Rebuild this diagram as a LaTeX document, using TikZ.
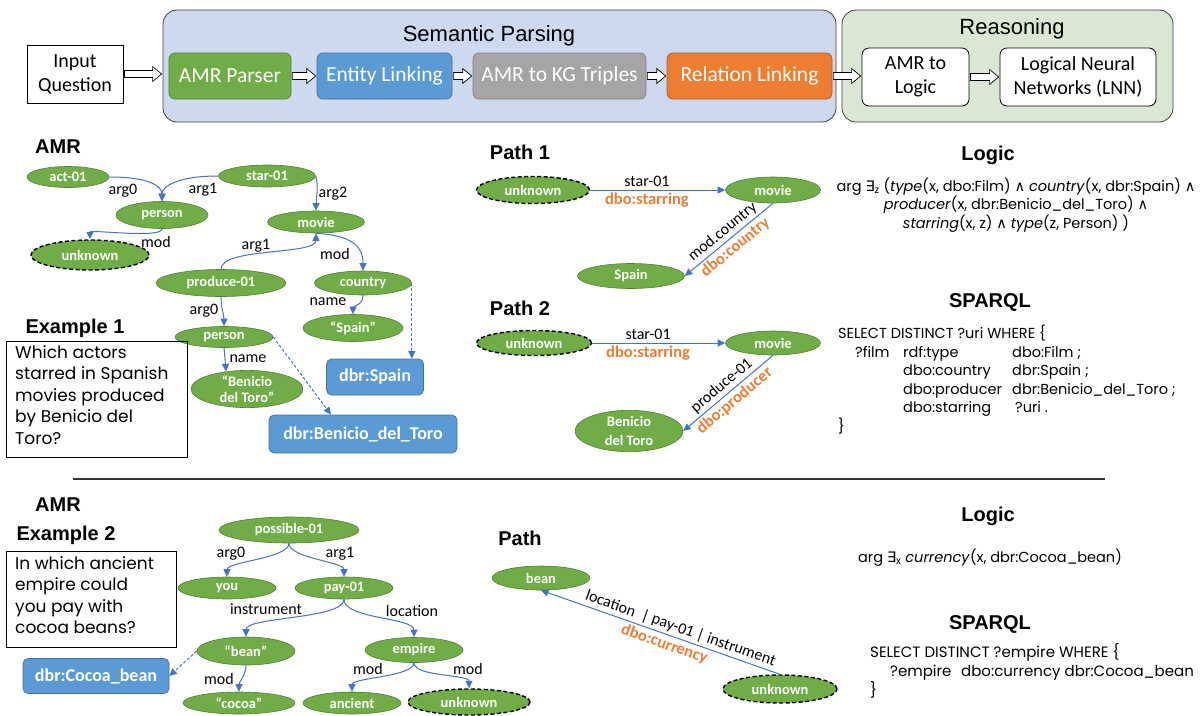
\documentclass[tikz,border=0pt]{standalone}
\usepackage{fontspec}
\setmainfont{Carlito}
\newfontfamily\arialf{Liberation Sans}
\newfontfamily\gothic{Poppins}
\newfontfamily\dejavu{DejaVu Sans}
\usetikzlibrary{shapes.geometric,arrows.meta,calc}
\definecolor{grn}{HTML}{70AD47}
\definecolor{grnD}{HTML}{507E32}
\definecolor{blu}{HTML}{5B9BD5}
\definecolor{bluD}{HTML}{41719C}
\definecolor{gry}{HTML}{A5A5A5}
\definecolor{gryD}{HTML}{7F7F7F}
\definecolor{org}{HTML}{ED7D31}
\definecolor{orgD}{HTML}{AE5A21}
\definecolor{eblue}{HTML}{4472C4}
\definecolor{spfill}{HTML}{CDD9EE}
\definecolor{rsfill}{HTML}{DAE8D3}
\newcommand\blockarr[2]{\draw[fill=white,line width=0.7pt] let \p1=#1, \p2=#2 in (\x1+1pt,\y1+3.5pt) -- (\x2-10pt,\y1+3.5pt) -- (\x2-10pt,\y1+7.5pt) -- (\x2-1pt,\y1) -- (\x2-10pt,\y1-7.5pt) -- (\x2-10pt,\y1-3.5pt) -- (\x1+1pt,\y1-3.5pt) -- cycle;}
\begin{document}
\begin{tikzpicture}[x=1pt,y=-1pt,
 panel/.style={draw=black!75, line width=0.8pt, rounded corners=14pt},
 title/.style={font=\arialf\fontsize{22}{24}\selectfont},
 stepbx/.style={draw=#1D, fill=#1, line width=0.7pt, rounded corners=6pt, text=white, font=\fontsize{21.5}{24}\selectfont, minimum height=46, inner sep=0pt},
 wbox/.style={draw=black, fill=white, line width=0.8pt, rounded corners=7pt, font=\fontsize{20}{23.5}\selectfont, align=center, inner sep=0pt},
 amr/.style={ellipse, draw=grnD, line width=0.6pt, fill=grn, text=white, font=\bfseries\fontsize{14.5}{16}\selectfont, inner sep=0pt, align=center},
 unk/.style={amr, draw=black, line width=1.4pt, dash pattern=on 4pt off 2.5pt},
 dbr/.style={draw=bluD, fill=blu, line width=0.7pt, rounded corners=5pt, text=white, font=\bfseries\fontsize{18}{20}\selectfont, inner sep=0pt},
 edge/.style={draw=eblue, line width=1pt, -{Triangle[length=7.5pt,width=7pt]}},
 dedge/.style={edge, dash pattern=on 3pt off 2pt},
 elab/.style={font=\fontsize{16}{18}\selectfont, inner sep=2.5pt},
 olab/.style={font=\bfseries\fontsize{16.5}{18}\selectfont, text=org, inner sep=2.5pt},
 head/.style={font=\arialf\bfseries\fontsize{20}{22}\selectfont},
 qbox/.style={draw=black, line width=0.8pt, inner sep=0pt},
 gtext/.style={font=\gothic\fontsize{17}{21.5}\selectfont, align=left, inner sep=0pt},
 logic/.style={font=\gothic\fontsize{14.5}{17}\selectfont, align=center, inner sep=0pt},
 code/.style={font=\gothic\fontsize{14.5}{18.5}\selectfont, inner sep=0pt},
]
\useasboundingbox (0,0) rectangle (1201,715);
% ---------- top pipeline ----------
\node[draw=black, line width=0.8pt, minimum width=96, minimum height=58, align=center, inner sep=0pt, font=\fontsize{20}{24}\selectfont] (inq) at (75,74) {Input\\Question};
\node[panel, fill=spfill, minimum width=673, minimum height=112] (sp) at (499.5,66) {};
\node[panel, fill=rsfill, minimum width=331, minimum height=112] (rs) at (1007.5,66) {};
\node[title] (spt) at (489,36) {Semantic Parsing};
\node[title] (rst) at (1012,29) {Reasoning};
\node[stepbx=grn, minimum width=122] (amrp) at (230,76) {AMR Parser};
\node[stepbx=blu, minimum width=135] (ent) at (384.5,76) {Entity Linking};
\node[stepbx=gry, minimum width=173] (kg) at (559.5,76) {AMR to KG Triples};
\node[stepbx=org, minimum width=165] (rl) at (749.5,76) {Relation Linking};
\node[wbox, minimum width=107, minimum height=58] (al) at (915.5,77) {AMR to\\Logic};
\node[wbox, minimum width=156, minimum height=58] (lnn) at (1078,77) {Logical Neural\\Networks (LNN)};
\blockarr{(inq.east)}{(sp.west)}
\blockarr{(amrp.east)}{(ent.west)}
\blockarr{(ent.east)}{(kg.west)}
\blockarr{(kg.east)}{(rl.west)}
\blockarr{(rl.east)}{(al.west)}
\blockarr{(al.east)}{(lnn.west)}
% ---------- Example 1 AMR ----------
\node[head] (amrh1) at (58,147) {AMR};
\node[amr, minimum width=82, minimum height=21] (act) at (68,177) {act-01};
\node[amr, minimum width=97, minimum height=22] (star) at (267,176) {star-01};
\node[amr, minimum width=92, minimum height=27] (per1) at (162,215) {person};
\node[amr, minimum width=97, minimum height=22] (mv1) at (316,222) {movie};
\node[unk, minimum width=118, minimum height=30] (unk1) at (90,255) {unknown};
\node[amr, minimum width=130, minimum height=27] (prod) at (221,283) {produce-01};
\node[amr, minimum width=97, minimum height=24] (ctry) at (363,283) {country};
\node[amr, minimum width=100, minimum height=27] (spq) at (353,328) {“Spain”};
\node[amr, minimum width=98, minimum height=21] (per2) at (224,337) {person};
\node[amr, minimum width=112, minimum height=34, font=\bfseries\fontsize{14.5}{15.5}\selectfont] (ben) at (247,389) {“Benicio\\del Toro”};
\node[dbr, minimum width=97, minimum height=36] (dbrS) at (375,377) {dbr:Spain};
\node[dbr, minimum width=188, minimum height=38] (dbrB) at (363,434) {dbr:Benicio\_del\_Toro};
\draw[edge] (act.east) .. controls +(40,0) and +(0,-15) .. (per1.north);
\draw[edge] (star.west) .. controls +(-40,0) and +(0,-15) .. (per1.north);
\draw[edge] (star.east) .. controls +(3,10) and +(0,-10) .. (mv1.north);
\draw[edge] (per1.south) .. controls +(0,10) and +(0,-10) .. (unk1.north);
\draw[edge] (prod.north) .. controls +(0,-22) and +(0,22) .. (mv1.south);
\draw[edge] (mv1.south) .. controls +(35,2) and +(0,-25) .. (ctry.north);
\draw[edge] (ctry.south) .. controls +(0,10) and +(0,-8) .. (spq.north);
\draw[edge] (prod.south) .. controls +(0,12) and +(0,-12) .. (per2.north);
\draw[edge] (per2.south) -- (ben.140);
\draw[dedge] (ctry.east) -- (ctry.east |- dbrS.north);
\draw[dedge] (per2.east) -- ([xshift=-32pt]dbrB.north);
\node[elab] (la1) at (123,191) {arg0};
\node[elab] (la2) at (203,190) {arg1};
\node[elab] (la3) at (333,194) {arg2};
\node[elab] (la4) at (156,242) {mod};
\node[elab] (la5) at (256,246) {arg1};
\node[elab] (la6) at (335,254) {mod};
\node[elab] (la7) at (328,302) {name};
\node[elab] (la8) at (204,311) {arg0};
\node[elab] (la9) at (248,359) {name};
\node[head] (ex1) at (75,328) {Example 1};
\node[qbox, minimum width=181, minimum height=116] (q1) at (96.5,399) {};
\node[gtext, anchor=north west] (q1t) at (15,345) {Which actors\\starred in Spanish\\movies produced\\by Benicio del\\Toro?};
% ---------- Path 1 ----------
\node[head] (p1h) at (520,152) {Path 1};
\node[unk, minimum width=113, minimum height=27] (unkP1) at (533,190) {unknown};
\node[amr, minimum width=95, minimum height=26] (mvP1) at (773,190) {movie};
\node[amr, minimum width=107, minimum height=25] (spP1) at (631,276) {Spain};
\draw[edge] (unkP1) -- node[elab, above, pos=0.42] {star-01} node[olab, below, pos=0.42] {dbo:starring} (mvP1);
\draw[edge] (mvP1.south) -- node[elab, sloped, above] {mod.country} node[olab, sloped, below] {dbo:country} (spP1.east);
% ---------- Path 2 ----------
\node[head] (p2h) at (520,308) {Path 2};
\node[unk, minimum width=115, minimum height=25] (unkP2) at (534,343) {unknown};
\node[amr, minimum width=95, minimum height=24] (mvP2) at (773,343) {movie};
\node[amr, minimum width=108, minimum height=38, font=\bfseries\fontsize{14.5}{19}\selectfont] (benP2) at (629,431) {Benicio\\del Toro};
\draw[edge] (unkP2) -- node[elab, above, pos=0.42] {star-01} node[olab, below, pos=0.42] {dbo:starring} (mvP2);
\draw[edge] (mvP2.south) -- node[elab, sloped, above] {produce-01} node[olab, sloped, below] {dbo:producer} (benP2.east);
% ---------- Logic / SPARQL 1 ----------
\node[head] (lgh1) at (988,155) {Logic};
\node[logic] (lg1) at (1016,205) {arg {\dejavu∃}\textsubscript{z} (\textit{type}(x, dbo:Film) {\dejavu∧} \textit{country}(x, dbr:Spain) {\dejavu∧}\\ \textit{producer}(x, dbr:Benicio\_del\_Toro) {\dejavu∧}\\ \textit{starring}(x, z) {\dejavu∧} \textit{type}(z, Person) )};
\node[head] (sqh1) at (990,302) {SPARQL};
\node[code, anchor=north west] (sq1) at (838,325) {\begin{tabular}{@{}p{17pt}@{}p{48pt}@{}p{109pt}@{}l@{}}
\multicolumn{4}{@{}l@{}}{SELECT DISTINCT ?uri WHERE \{}\\
& ?film & rdf:type & dbo:Film ;\\
& & dbo:country & dbr:Spain ;\\
& & dbo:producer & dbr:Benicio\_del\_Toro ;\\
& & dbo:starring & \hspace{3pt}?uri .\\
\}&&&
\end{tabular}};
% ---------- separator ----------
\draw[black!80, line width=1.2pt] (73,479) -- (1105,479);
% ---------- Example 2 AMR ----------
\node[head] (amrh2) at (58,505) {AMR};
\node[head] (ex2) at (66,535) {Example 2};
\node[qbox, minimum width=170, minimum height=96] (q2) at (91,599) {};
\node[gtext, anchor=north west] (q2t) at (15,556) {In which ancient\\empire could\\you pay with\\cocoa beans?};
\node[amr, minimum width=140, minimum height=26] (poss) at (289,530) {possible-01};
\node[amr, minimum width=98, minimum height=22] (you) at (227,588) {you};
\node[amr, minimum width=98, minimum height=22] (pay) at (344,588) {pay-01};
\node[amr, minimum width=98, minimum height=28] (bean) at (246,651) {“bean”};
\node[amr, minimum width=98, minimum height=25] (emp) at (414,650) {empire};
\node[amr, minimum width=112, minimum height=22] (cocoa) at (239,703) {“cocoa”};
\node[amr, minimum width=98, minimum height=22] (anc) at (352,703) {ancient};
\node[unk, minimum width=122, minimum height=26] (unk3) at (469,702) {unknown};
\node[dbr, minimum width=146, minimum height=35] (dbrC) at (96,676) {dbr:Cocoa\_bean};
\draw[edge] (poss.south) .. controls +(0,15) and +(0,-15) .. (you.north);
\draw[edge] (poss.south) .. controls +(0,15) and +(0,-15) .. (pay.north);
\draw[edge] (pay.south) .. controls +(0,20) and +(0,-20) .. (bean.north);
\draw[edge] (pay.south) .. controls +(0,20) and +(0,-20) .. (emp.north);
\draw[edge] (bean.south) .. controls +(0,10) and +(0,-10) .. (cocoa.north);
\draw[edge] (emp.south) .. controls +(0,14) and +(0,-14) .. (anc.north);
\draw[edge] (emp.south) .. controls +(0,14) and +(0,-14) .. (unk3.north);
\draw[dedge] (bean.west) -- (dbrC.east);
\node[elab] (lb1) at (231,554) {arg0};
\node[elab] (lb2) at (340,554) {arg1};
\node[elab] (lb3) at (266,609) {instrument};
\node[elab] (lb4) at (412,611) {location};
\node[elab] (lb5) at (219,679) {mod};
\node[elab] (lb6) at (368,669) {mod};
\node[elab] (lb7) at (468,669) {mod};
% ---------- Path (example 2) ----------
\node[head] (p3h) at (520,538) {Path};
\node[amr, minimum width=98, minimum height=24] (beanP) at (541,578) {bean};
\node[unk, minimum width=114, minimum height=28] (unkP3) at (780,689) {unknown};
\draw[edge] (unkP3.north) -- node[elab, sloped, above, pos=0.43] {location \ | pay-01 | instrument} node[olab, sloped, below, pos=0.47] {dbo:currency} (beanP.south);
% ---------- Logic / SPARQL 2 ----------
\node[head] (lgh2) at (988,516) {Logic};
\node[logic] (lg2) at (990,558) {arg {\dejavu∃}\textsubscript{x} \textit{currency}(x, dbr:Cocoa\_bean)};
\node[head] (sqh2) at (990,624) {SPARQL};
\node[code, anchor=north west, font=\gothic\fontsize{15}{19}\selectfont] (sq2) at (870,643) {\begin{tabular}{@{}p{20pt}@{}p{71pt}@{}l@{}}
\multicolumn{3}{@{}l@{}}{SELECT DISTINCT ?empire WHERE \{}\\
& ?empire & dbo:currency dbr:Cocoa\_bean\\
\}&&
\end{tabular}};
\end{tikzpicture}
\end{document}
